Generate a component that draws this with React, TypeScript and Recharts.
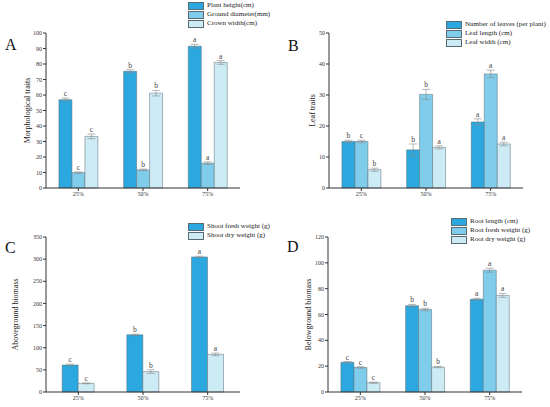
import React from "react";
import { BarChart, Bar, XAxis, YAxis, ErrorBar, LabelList, Label } from "recharts";

const categories = ["25%", "50%", "75%"];

// A - morphological traits
const plantHeight = [57, 75.3, 91.5];
const plantHeightErr = [1, 1, 1.2];
const plantHeightLetters = ["c", "b", "a"];
const groundDiameter = [9.9, 11.7, 16];
const groundDiameterErr = [0.5, 0.5, 0.8];
const groundDiameterLetters = ["c", "b", "a"];
const crownWidth = [33.3, 61.2, 81];
const crownWidthErr = [1.5, 1.8, 1.2];
const crownWidthLetters = ["c", "b", "a"];

// B - leaf traits
const leafNumber = [15, 12.3, 21.3];
const leafNumberErr = [0.4, 1.9, 1];
const leafNumberLetters = ["b", "b", "a"];
const leafLength = [15, 30.2, 36.8];
const leafLengthErr = [0.4, 1.6, 1.2];
const leafLengthLetters = ["c", "b", "a"];
const leafWidth = [5.9, 13.1, 14.2];
const leafWidthErr = [0.5, 0.5, 0.6];
const leafWidthLetters = ["b", "a", "a"];

// C - aboveground biomass
const shootFresh = [61, 129, 305];
const shootFreshErr = [2, 1.5, 1.5];
const shootFreshLetters = ["c", "b", "a"];
const shootDry = [19.5, 46, 85];
const shootDryErr = [1, 4, 3];
const shootDryLetters = ["c", "b", "a"];

// D - belowground biomass
const rootLength = [23, 66.8, 71.8];
const rootLengthErr = [0.6, 1, 0.8];
const rootLengthLetters = ["c", "b", "a"];
const rootFresh = [19, 63.8, 94.3];
const rootFreshErr = [0.6, 1, 1.5];
const rootFreshLetters = ["c", "b", "a"];
const rootDry = [7.2, 19.3, 74.8];
const rootDryErr = [0.5, 0.5, 1.5];
const rootDryLetters = ["c", "b", "a"];

const DARK = "#2BA8DF";
const MID = "#80CDEB";
const LIGHT = "#CDEBF5";
const PLOT_H = 155;
const FONT = "'Liberation Serif', 'DejaVu Serif', serif";

type Series = {
  name: string;
  values: number[];
  errors: number[];
  letters: string[];
  color: string;
};

type PanelProps = {
  tag: string;
  left: number;
  top: number;
  height: number;
  plotTop: number;
  yMax: number;
  yStep: number;
  yLabel: string;
  yLabelDist: number;
  gap: string;
  series: Series[];
  legendLeft: number;
  legendTop: number;
  tagTop: number;
};

function Panel(p: PanelProps) {
  const data = categories.map((c, i) => {
    const row: any = { name: c };
    p.series.forEach((s, k) => {
      row["v" + k] = s.values[i];
      row["e" + k] = s.errors[i];
    });
    return row;
  });
  const ticks: number[] = [];
  for (let t = 0; t <= p.yMax; t += p.yStep) ticks.push(t);
  const pxPerUnit = PLOT_H / p.yMax;
  const bottom = p.height - p.plotTop - PLOT_H - 12;

  return (
    <div style={{ position: "absolute", left: p.left, top: p.top }}>
      <BarChart
        width={275}
        height={p.height}
        data={data}
        margin={{ top: p.plotTop, right: 35, bottom, left: 0 }}
        barCategoryGap={p.gap}
        barGap={0}
      >
        <XAxis
          dataKey="name"
          height={12}
          tick={{ fontSize: 6, fill: "#333" }}
          tickSize={3}
          tickMargin={1}
          stroke="#333"
          interval={0}
        />
        <YAxis
          width={46}
          domain={[0, p.yMax]}
          ticks={ticks}
          interval={0}
          tick={{ fontSize: 6, fill: "#333" }}
          tickSize={3}
          tickMargin={1}
          stroke="#333"
        >
          <Label
            content={(props: any) => {
              const vb = props.viewBox || { x: 0, y: p.plotTop, width: 46, height: PLOT_H };
              const x = vb.x + vb.width - p.yLabelDist;
              const y = vb.y + vb.height / 2;
              return (
                <text
                  x={x}
                  y={y}
                  transform={`rotate(-90 ${x} ${y})`}
                  textAnchor="middle"
                  dominantBaseline="central"
                  fontSize={8}
                  fill="#222"
                >
                  {p.yLabel}
                </text>
              );
            }}
          />
        </YAxis>
        {p.series.map((s, k) => (
          <Bar
            key={s.name}
            dataKey={"v" + k}
            name={s.name}
            fill={s.color}
            stroke="#5a6a72"
            strokeWidth={0.5}
            isAnimationActive={false}
          >
            <ErrorBar
              dataKey={"e" + k}
              width={4}
              stroke="#8a8a8a"
              strokeWidth={0.6}
              isAnimationActive={false}
            />
            <LabelList
              dataKey={"v" + k}
              content={(lp: any) => {
                const idx = lp.index;
                const cx = Number(lp.x) + Number(lp.width) / 2;
                const ty = Number(lp.y) - s.errors[idx] * pxPerUnit - 2;
                return (
                  <text x={cx} y={ty} textAnchor="middle" fontSize={7.5} fill="#444">
                    {s.letters[idx]}
                  </text>
                );
              }}
            />
          </Bar>
        ))}
      </BarChart>
      <div
        style={{
          position: "absolute",
          left: p.legendLeft,
          top: p.legendTop,
          fontSize: 7,
          lineHeight: "9px",
          color: "#222",
          whiteSpace: "nowrap",
        }}
      >
        {p.series.map((s) => (
          <div key={s.name} style={{ display: "flex", alignItems: "center", height: 9 }}>
            <span
              style={{
                display: "inline-block",
                flex: "none",
                width: 14,
                height: 6,
                background: s.color,
                border: "0.5px solid #5a6a72",
                marginRight: 3,
              }}
            />
            <span>{s.name}</span>
          </div>
        ))}
      </div>
      <div
        style={{
          position: "absolute",
          left: 5,
          top: p.tagTop,
          fontSize: 16,
          lineHeight: "16px",
          color: "#111",
        }}
      >
        {p.tag}
      </div>
    </div>
  );
}

export default function App() {
  return (
    <div
      style={{
        position: "absolute",
        left: 0,
        top: 0,
        width: 550,
        height: 407,
        background: "#fff",
        fontFamily: FONT,
        overflow: "hidden",
      }}
    >
      <Panel
        tag="A"
        left={0}
        top={0}
        height={205}
        plotTop={33}
        yMax={100}
        yStep={10}
        yLabel="Morphological traits"
        yLabelDist={19}
        gap="20%"
        legendLeft={188}
        legendTop={1}
        tagTop={37}
        series={[
          { name: "Plant height(cm)", values: plantHeight, errors: plantHeightErr, letters: plantHeightLetters, color: DARK },
          { name: "Ground diameter(mm)", values: groundDiameter, errors: groundDiameterErr, letters: groundDiameterLetters, color: MID },
          { name: "Crown width(cm)", values: crownWidth, errors: crownWidthErr, letters: crownWidthLetters, color: LIGHT },
        ]}
      />
      <Panel
        tag="B"
        left={283}
        top={0}
        height={205}
        plotTop={33}
        yMax={50}
        yStep={10}
        yLabel="Leaf traits"
        yLabelDist={17}
        gap="20%"
        legendLeft={163}
        legendTop={20}
        tagTop={38}
        series={[
          { name: "Number of leaves (per plant)", values: leafNumber, errors: leafNumberErr, letters: leafNumberLetters, color: DARK },
          { name: "Leaf length (cm)", values: leafLength, errors: leafLengthErr, letters: leafLengthLetters, color: MID },
          { name: "Leaf width (cm)", values: leafWidth, errors: leafWidthErr, letters: leafWidthLetters, color: LIGHT },
        ]}
      />
      <Panel
        tag="C"
        left={0}
        top={205}
        height={202}
        plotTop={32}
        yMax={350}
        yStep={50}
        yLabel="Aboveground biomass"
        yLabelDist={31}
        gap="25%"
        legendLeft={188}
        legendTop={17}
        tagTop={35}
        series={[
          { name: "Shoot fresh weight (g)", values: shootFresh, errors: shootFreshErr, letters: shootFreshLetters, color: DARK },
          { name: "Shoot dry weight (g)", values: shootDry, errors: shootDryErr, letters: shootDryLetters, color: LIGHT },
        ]}
      />
      <Panel
        tag="D"
        left={282}
        top={205}
        height={202}
        plotTop={32}
        yMax={120}
        yStep={20}
        yLabel="Belowground biomass"
        yLabelDist={20}
        gap="20%"
        legendLeft={169}
        legendTop={12}
        tagTop={34}
        series={[
          { name: "Root length (cm)", values: rootLength, errors: rootLengthErr, letters: rootLengthLetters, color: DARK },
          { name: "Root fresh weight (g)", values: rootFresh, errors: rootFreshErr, letters: rootFreshLetters, color: MID },
          { name: "Root dry weight (g)", values: rootDry, errors: rootDryErr, letters: rootDryLetters, color: LIGHT },
        ]}
      />
    </div>
  );
}
